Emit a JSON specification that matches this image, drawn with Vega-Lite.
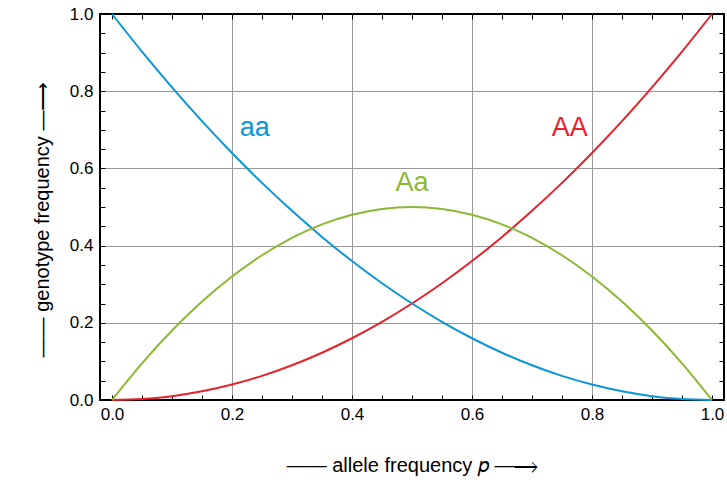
{
  "$schema": "https://vega.github.io/schema/vega-lite/v6.json",
  "width": 624,
  "height": 386,
  "autosize": "none",
  "padding": {"left": 100, "top": 14, "right": 3, "bottom": 83},
  "background": "white",
  "config": {
    "view": {"stroke": "black", "strokeWidth": 2},
    "font": "Liberation Sans"
  },
  "datasets": {
    "curves": [
      {"p": 0.00, "f": 0.0000, "g": "AA"}, {"p": 0.05, "f": 0.0025, "g": "AA"}, {"p": 0.10, "f": 0.0100, "g": "AA"},
      {"p": 0.15, "f": 0.0225, "g": "AA"}, {"p": 0.20, "f": 0.0400, "g": "AA"}, {"p": 0.25, "f": 0.0625, "g": "AA"},
      {"p": 0.30, "f": 0.0900, "g": "AA"}, {"p": 0.35, "f": 0.1225, "g": "AA"}, {"p": 0.40, "f": 0.1600, "g": "AA"},
      {"p": 0.45, "f": 0.2025, "g": "AA"}, {"p": 0.50, "f": 0.2500, "g": "AA"}, {"p": 0.55, "f": 0.3025, "g": "AA"},
      {"p": 0.60, "f": 0.3600, "g": "AA"}, {"p": 0.65, "f": 0.4225, "g": "AA"}, {"p": 0.70, "f": 0.4900, "g": "AA"},
      {"p": 0.75, "f": 0.5625, "g": "AA"}, {"p": 0.80, "f": 0.6400, "g": "AA"}, {"p": 0.85, "f": 0.7225, "g": "AA"},
      {"p": 0.90, "f": 0.8100, "g": "AA"}, {"p": 0.95, "f": 0.9025, "g": "AA"}, {"p": 1.00, "f": 1.0000, "g": "AA"},
      {"p": 0.00, "f": 1.0000, "g": "aa"}, {"p": 0.05, "f": 0.9025, "g": "aa"}, {"p": 0.10, "f": 0.8100, "g": "aa"},
      {"p": 0.15, "f": 0.7225, "g": "aa"}, {"p": 0.20, "f": 0.6400, "g": "aa"}, {"p": 0.25, "f": 0.5625, "g": "aa"},
      {"p": 0.30, "f": 0.4900, "g": "aa"}, {"p": 0.35, "f": 0.4225, "g": "aa"}, {"p": 0.40, "f": 0.3600, "g": "aa"},
      {"p": 0.45, "f": 0.3025, "g": "aa"}, {"p": 0.50, "f": 0.2500, "g": "aa"}, {"p": 0.55, "f": 0.2025, "g": "aa"},
      {"p": 0.60, "f": 0.1600, "g": "aa"}, {"p": 0.65, "f": 0.1225, "g": "aa"}, {"p": 0.70, "f": 0.0900, "g": "aa"},
      {"p": 0.75, "f": 0.0625, "g": "aa"}, {"p": 0.80, "f": 0.0400, "g": "aa"}, {"p": 0.85, "f": 0.0225, "g": "aa"},
      {"p": 0.90, "f": 0.0100, "g": "aa"}, {"p": 0.95, "f": 0.0025, "g": "aa"}, {"p": 1.00, "f": 0.0000, "g": "aa"},
      {"p": 0.00, "f": 0.000, "g": "Aa"}, {"p": 0.05, "f": 0.095, "g": "Aa"}, {"p": 0.10, "f": 0.180, "g": "Aa"},
      {"p": 0.15, "f": 0.255, "g": "Aa"}, {"p": 0.20, "f": 0.320, "g": "Aa"}, {"p": 0.25, "f": 0.375, "g": "Aa"},
      {"p": 0.30, "f": 0.420, "g": "Aa"}, {"p": 0.35, "f": 0.455, "g": "Aa"}, {"p": 0.40, "f": 0.480, "g": "Aa"},
      {"p": 0.45, "f": 0.495, "g": "Aa"}, {"p": 0.50, "f": 0.500, "g": "Aa"}, {"p": 0.55, "f": 0.495, "g": "Aa"},
      {"p": 0.60, "f": 0.480, "g": "Aa"}, {"p": 0.65, "f": 0.455, "g": "Aa"}, {"p": 0.70, "f": 0.420, "g": "Aa"},
      {"p": 0.75, "f": 0.375, "g": "Aa"}, {"p": 0.80, "f": 0.320, "g": "Aa"}, {"p": 0.85, "f": 0.255, "g": "Aa"},
      {"p": 0.90, "f": 0.180, "g": "Aa"}, {"p": 0.95, "f": 0.095, "g": "Aa"}, {"p": 1.00, "f": 0.000, "g": "Aa"}
    ],
    "labels": [
      {"p": 0.238, "f": 0.705, "g": "aa"},
      {"p": 0.500, "f": 0.562, "g": "Aa"},
      {"p": 0.763, "f": 0.705, "g": "AA"}
    ]
  },
  "layer": [
    {
      "data": {"name": "curves"},
      "mark": {"type": "line", "strokeWidth": 2, "interpolate": "monotone"},
      "encoding": {
        "x": {
          "field": "p", "type": "quantitative",
          "scale": {"domain": [-0.02, 1.02], "nice": false, "zero": false},
          "axis": {
            "orient": "bottom",
            "values": [0,0.05,0.1,0.15,0.2,0.25,0.3,0.35,0.4,0.45,0.5,0.55,0.6,0.65,0.7,0.75,0.8,0.85,0.9,0.95,1],
            "labelExpr": "abs(datum.value*5-round(datum.value*5))<1e-6 ? format(datum.value,'.1f') : ''",
            "labelFontSize": 17, "labelColor": "black", "labelPadding": 11, "labelFont": "Liberation Sans",
            "tickSize": -5, "tickColor": "black", "tickWidth": 1,
            "domain": false,
            "grid": true, "gridColor": "#999999", "gridWidth": 1,
            "gridOpacity": {"condition": {"test": "datum.value>0.01 && datum.value<0.99 && abs(datum.value*5-round(datum.value*5))<1e-6", "value": 1}, "value": 0},
            "title": "—— allele frequency  𝑝 —⟶",
            "titleFontSize": 20, "titleFontWeight": "normal", "titleColor": "black", "titlePadding": 33, "titleFont": "Liberation Sans"
          }
        },
        "y": {
          "field": "f", "type": "quantitative",
          "scale": {"domain": [0, 1], "nice": false},
          "axis": {
            "orient": "left",
            "values": [0,0.05,0.1,0.15,0.2,0.25,0.3,0.35,0.4,0.45,0.5,0.55,0.6,0.65,0.7,0.75,0.8,0.85,0.9,0.95,1],
            "labelExpr": "abs(datum.value*5-round(datum.value*5))<1e-6 ? format(datum.value,'.1f') : ''",
            "labelFontSize": 17, "labelColor": "black", "labelPadding": 12, "labelFont": "Liberation Sans",
            "tickSize": -5, "tickColor": "black", "tickWidth": 1,
            "domain": false,
            "grid": true, "gridColor": "#999999", "gridWidth": 1,
            "gridOpacity": {"condition": {"test": "datum.value>0.01 && datum.value<0.99 && abs(datum.value*5-round(datum.value*5))<1e-6", "value": 1}, "value": 0},
            "title": "—— genotype frequency —⟶",
            "titleY": 205,
            "titleFontSize": 20, "titleFontWeight": "normal", "titleColor": "black", "titlePadding": 17, "titleFont": "Liberation Sans"
          }
        },
        "color": {
          "field": "g", "type": "nominal",
          "scale": {"domain": ["AA", "Aa", "aa"], "range": ["#e8202a", "#8cb833", "#0a96d8"]},
          "legend": null
        }
      }
    },
    {
      "data": {"name": "labels"},
      "mark": {"type": "text", "fontSize": 27, "font": "Liberation Sans", "align": "center", "baseline": "middle"},
      "encoding": {
        "x": {
          "field": "p", "type": "quantitative",
          "axis": {
            "orient": "top",
            "values": [0,0.05,0.1,0.15,0.2,0.25,0.3,0.35,0.4,0.45,0.5,0.55,0.6,0.65,0.7,0.75,0.8,0.85,0.9,0.95,1],
            "labels": false, "title": null, "grid": false, "domain": false,
            "tickSize": -5, "tickColor": "black", "tickWidth": 1
          }
        },
        "y": {
          "field": "f", "type": "quantitative",
          "axis": {
            "orient": "right",
            "values": [0,0.05,0.1,0.15,0.2,0.25,0.3,0.35,0.4,0.45,0.5,0.55,0.6,0.65,0.7,0.75,0.8,0.85,0.9,0.95,1],
            "labels": false, "title": null, "grid": false, "domain": false,
            "tickSize": -5, "tickColor": "black", "tickWidth": 1
          }
        },
        "text": {"field": "g", "type": "nominal"},
        "color": {"field": "g", "type": "nominal", "legend": null}
      }
    }
  ],
  "resolve": {"axis": {"x": "independent", "y": "independent"}}
}
